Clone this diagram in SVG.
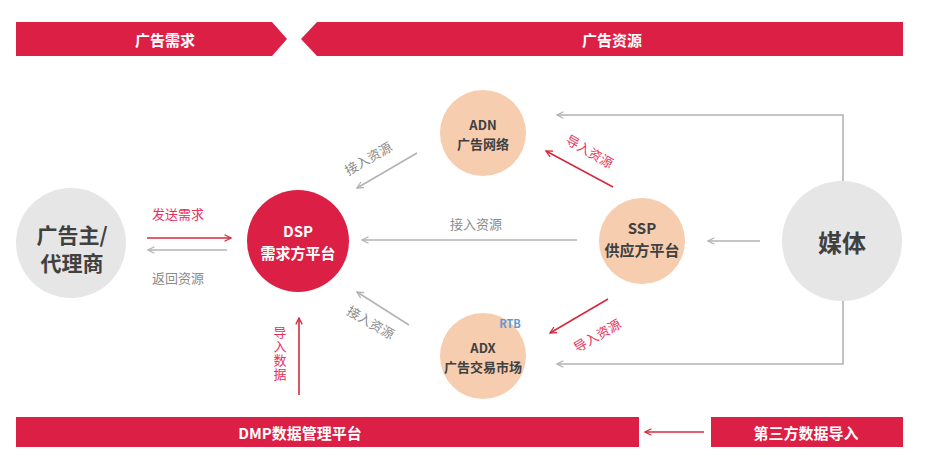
<svg xmlns="http://www.w3.org/2000/svg" width="938" height="475" viewBox="0 0 938 475">
<style>
text{font-family:"Noto Sans CJK SC","Noto Sans",sans-serif;text-anchor:middle;dominant-baseline:central}
.band{fill:#db1f45}
.bt{fill:#fff;font-size:15px;font-weight:bold}
.peach{fill:#f7cdb0}
.grayc{fill:#e6e6e6}
.nt{fill:#404040;font-weight:bold}
.gl{stroke:#b3b3b3;stroke-width:1.6;fill:none}
.rl{stroke:#d42a3e;stroke-width:1.6;fill:none}
.gt{fill:#8a8a8a;font-size:13px}
.rt{fill:#e8305a;font-size:13px}
</style>
<defs>
<marker id="ag" viewBox="0 0 10 10" refX="9" refY="5" markerWidth="8" markerHeight="8" orient="auto" markerUnits="userSpaceOnUse"><path d="M1,1 L9,5 L1,9" fill="none" stroke="#b3b3b3" stroke-width="1.6"/></marker>
<marker id="ar" viewBox="0 0 10 10" refX="9" refY="5" markerWidth="8" markerHeight="8" orient="auto" markerUnits="userSpaceOnUse"><path d="M1,1 L9,5 L1,9" fill="none" stroke="#d42a3e" stroke-width="1.6"/></marker>
</defs>
<g id="band-demand"><polygon class="band" points="16,22 272,22 287,39 272,56 16,56"/><text class="bt" x="165" y="39">广告需求</text></g>
<g id="band-resource"><polygon class="band" points="317,22 903,22 903,56 317,56 301,39"/><text class="bt" x="612" y="39">广告资源</text></g>
<g id="band-dmp"><rect class="band" x="16" y="417" width="623" height="30"/><text class="bt" x="300" y="432">DMP数据管理平台</text></g>
<g id="band-third"><rect class="band" x="711" y="417" width="192" height="30"/><text class="bt" x="806" y="432">第三方数据导入</text></g>
<g id="connectors">
<polyline class="gl" points="843,181 843,115 557,115" marker-end="url(#ag)"/>
<polyline class="gl" points="843,300 843,364 557,364" marker-end="url(#ag)"/>
<line class="gl" x1="760" y1="241" x2="708" y2="241" marker-end="url(#ag)"/>
<line class="gl" x1="577" y1="240" x2="362" y2="240" marker-end="url(#ag)"/>
<line class="gl" x1="417" y1="153" x2="357" y2="188" marker-end="url(#ag)"/>
<line class="gl" x1="409" y1="325" x2="357" y2="292" marker-end="url(#ag)"/>
<line class="rl" x1="613" y1="187" x2="546" y2="151" marker-end="url(#ar)"/>
<line class="rl" x1="608" y1="299" x2="550" y2="333" marker-end="url(#ar)"/>
<line class="rl" x1="147" y1="238" x2="231" y2="238" marker-end="url(#ar)"/>
<line class="gl" x1="227" y1="250" x2="148" y2="250" marker-end="url(#ag)"/>
<line class="rl" x1="299" y1="395" x2="299" y2="318" marker-end="url(#ar)"/>
<line class="rl" x1="704" y1="432" x2="645" y2="432" marker-end="url(#ar)"/>
<text class="gt" x="476" y="223">接入资源</text>
<text class="gt" transform="translate(368,158) rotate(-30)">接入资源</text>
<text class="gt" transform="translate(371,322) rotate(30)">接入资源</text>
<text class="rt" transform="translate(590,151) rotate(30)">导入资源</text>
<text class="rt" transform="translate(597,335) rotate(-30)">导入资源</text>
<text class="rt" x="178" y="213">发送需求</text>
<text class="gt" x="178" y="277">返回资源</text>
<text class="rt" x="280" y="354" font-size="13" writing-mode="vertical-rl" letter-spacing="1">导入数据</text>
</g>
<g id="advertiser"><circle class="grayc" cx="71" cy="243" r="55"/><text class="nt" font-size="21"><tspan x="72" y="234">广告主/</tspan><tspan x="72" y="262">代理商</tspan></text></g>
<g id="dsp"><circle class="band" cx="298" cy="241" r="51"/><text font-size="15" font-weight="bold" fill="#fff"><tspan x="298" y="230">DSP</tspan><tspan x="298" y="252">需求方平台</tspan></text></g>
<g id="adn"><circle class="peach" cx="483" cy="133" r="43"/><text class="nt" font-size="13"><tspan x="483" y="124">ADN</tspan><tspan x="483" y="143">广告网络</tspan></text></g>
<g id="adx"><circle class="peach" cx="483" cy="356" r="43"/><text x="510" y="323" font-size="11" font-weight="bold" fill="#5b9bd5">RTB</text><text class="nt" font-size="13"><tspan x="483" y="347">ADX</tspan><tspan x="483" y="366">广告交易市场</tspan></text></g>
<g id="ssp"><circle class="peach" cx="642" cy="241" r="43"/><text class="nt" font-size="15"><tspan x="642" y="227">SSP</tspan><tspan x="642" y="249">供应方平台</tspan></text></g>
<g id="media"><circle class="grayc" cx="842" cy="241" r="60"/><text class="nt" x="842" y="241" font-size="24">媒体</text></g>
</svg>
